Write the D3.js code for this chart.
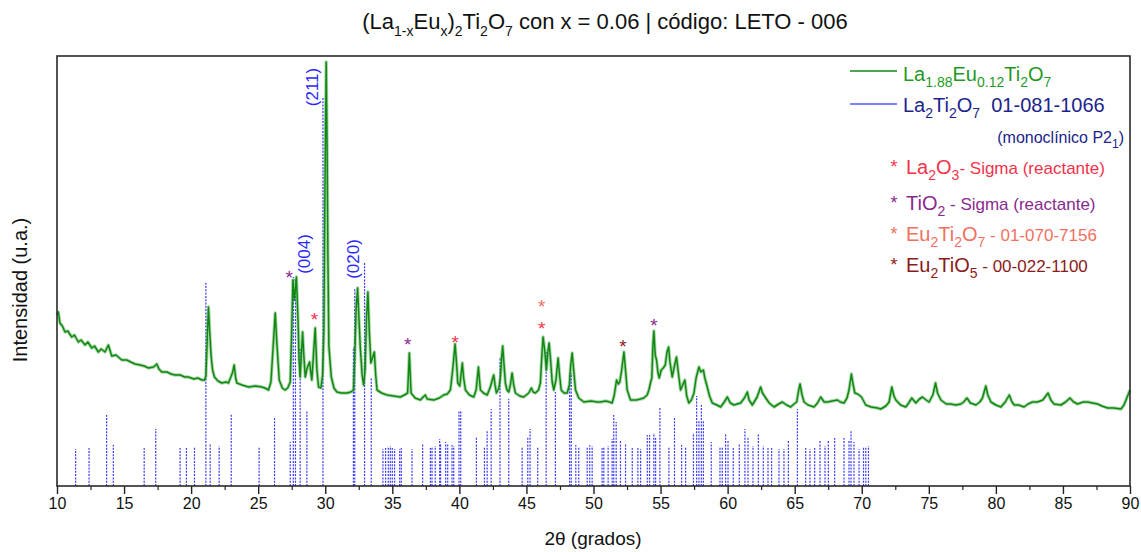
<!DOCTYPE html>
<html lang="es">
<head>
<meta charset="UTF-8">
<title>LETO - 006</title>
<script src="https://cdn.jsdelivr.net/npm/d3@7"></script>
<style>
  body { margin: 0; background: #fff; }
  svg { font-family: "Liberation Sans", Arial, sans-serif; }
  text { white-space: pre; }
</style>
</head>
<body>
<svg id="chart" width="1141" height="552"></svg>
<script>
// measured pattern (2theta, intensity in arbitrary units)
const twoTheta = [10.0,10.1,10.22,10.4,10.6,10.8,11.1,11.3,11.59,11.8,12.09,12.3,12.59,12.8,13.08,13.3,13.58,13.83,14.08,14.4,14.83,15.2,15.5,15.82,16.2,16.5,16.82,17.2,17.44,17.6,17.81,18.2,18.5,18.81,19.2,19.5,19.8,20.2,20.5,20.8,21.0,21.1,21.2,21.29,21.38,21.49,21.6,21.74,22.0,22.29,22.6,22.78,22.96,23.1,23.21,23.32,23.41,23.8,24.28,24.8,25.27,25.5,25.77,25.95,26.1,26.27,26.4,26.57,26.8,27.01,27.2,27.39,27.5,27.59,27.7,27.85,27.97,28.05,28.13,28.22,28.31,28.4,28.51,28.65,28.83,28.92,29.0,29.12,29.25,29.38,29.5,29.68,29.8,29.9,29.97,30.07,30.14,30.2,30.27,30.45,30.65,30.87,31.2,31.62,31.9,32.11,32.2,32.3,32.41,32.5,32.61,32.75,32.86,32.97,33.07,33.18,33.28,33.4,33.52,33.66,33.76,33.86,34.2,34.6,35.1,35.6,35.9,36.14,36.2,36.27,36.34,36.4,36.7,37.09,37.3,37.46,37.6,38.1,38.5,38.83,39.1,39.33,39.5,39.68,39.8,39.88,40.03,40.12,40.22,40.32,40.45,40.75,41.07,41.25,41.42,41.5,41.57,41.8,42.07,42.31,42.45,42.56,42.66,42.76,42.95,43.06,43.15,43.23,43.33,43.43,43.55,43.68,43.8,43.93,44.05,44.18,44.5,44.8,45.17,45.37,45.5,45.67,45.9,46.04,46.15,46.24,46.36,46.49,46.6,46.69,46.8,46.92,47.04,47.2,47.36,47.47,47.59,47.8,48.04,48.2,48.3,48.41,48.52,48.66,48.9,49.28,49.8,50.27,50.52,50.9,51.2,51.39,51.55,51.72,51.85,51.96,52.1,52.27,52.4,52.51,52.76,53.2,53.5,53.75,54.0,54.13,54.3,54.35,54.43,54.5,54.6,54.7,54.8,54.9,55.05,55.2,55.35,55.48,55.6,55.7,55.87,56.05,56.19,56.3,56.49,56.65,56.81,56.95,57.11,57.3,57.49,57.65,57.86,58.0,58.19,58.3,58.48,58.65,58.86,59.2,59.48,59.75,59.98,60.2,60.47,60.7,60.97,61.25,61.47,61.6,61.84,62.2,62.46,62.6,62.84,63.1,63.46,63.8,64.08,64.4,64.7,64.95,65.15,65.3,65.4,65.55,65.7,66.0,66.44,66.7,66.94,67.2,67.44,67.8,68.19,68.4,68.68,68.9,69.05,69.23,69.35,69.48,69.7,69.98,70.3,70.7,71.17,71.42,71.8,72.04,72.24,72.4,72.54,72.9,73.28,73.5,73.73,74.03,74.3,74.53,74.8,75.02,75.3,75.5,75.65,75.9,76.3,76.64,77.0,77.39,77.6,77.84,78.1,78.51,78.8,79.0,79.25,79.4,79.63,80.0,80.37,80.7,81.0,81.2,81.37,81.7,82.1,82.4,82.73,83.1,83.5,83.89,84.1,84.33,84.85,85.2,85.52,85.8,86.09,86.5,86.84,87.2,87.59,87.9,88.33,88.8,89.33,89.55,89.7,89.85,90.0];
const counts = [171,174,163,160,154,155,149,151,144,146,141,144,138,140,134,137,134,141,130,131,126,126,124,122,121,120,118,119,122,117,114,114,112,111,111,109,109,107,108,106,106,110,146,179,156,130,116,109,105,103,104,103,109,114,121,108,103,101,99,100,99,98,96,104,136,173,141,106,98,96,98,104,156,206,186,209,166,126,109,131,154,131,109,118,124,114,106,131,158,116,99,98,111,156,286,424,336,226,140,109,98,94,93,93,94,96,129,176,198,171,139,111,101,116,166,194,156,123,128,134,111,96,93,91,90,89,91,93,111,133,111,93,88,86,89,91,87,86,88,91,92,96,116,142,121,103,100,111,123,108,96,91,89,96,119,106,96,93,91,99,106,111,101,93,98,109,128,140,121,103,96,94,101,113,101,93,90,89,93,98,94,93,96,103,131,149,136,116,134,143,126,104,96,106,128,111,96,93,93,101,121,133,116,96,88,84,85,84,84,85,84,83,91,106,102,104,116,134,114,96,86,86,87,88,91,96,106,108,141,155,131,126,114,108,116,118,121,134,139,124,109,121,129,116,96,101,106,90,83,86,93,108,119,114,116,108,99,90,83,81,79,84,89,83,81,82,83,88,94,86,81,89,99,93,88,83,79,82,84,81,79,82,84,96,102,91,84,81,79,83,89,84,84,85,86,84,83,88,96,112,102,93,92,89,81,79,78,77,80,84,99,90,86,81,79,83,88,83,87,89,86,84,91,103,93,86,82,82,81,82,84,88,83,81,84,88,100,91,84,81,79,84,91,84,81,81,79,82,84,84,86,93,86,82,81,84,88,84,82,84,84,83,82,80,78,78,77,81,86,91,96];

// La2Ti2O7 reference card 01-081-1066 (position, relative height)
const refPos = [11.39,12.39,13.7,14.2,16.5,17.36,19.18,19.65,20.25,21.1,21.42,22.09,22.99,25.07,26.22,27.39,27.62,27.78,28.13,28.63,29.83,32.1,32.2,32.93,33.43,34.3,34.5,34.7,34.85,35.0,35.17,35.55,35.67,36.47,37.26,37.84,37.96,38.2,38.53,38.6,38.98,39.13,39.45,39.58,39.97,40.1,41.27,41.87,42.07,42.37,43.03,43.68,44.68,45.1,45.27,45.84,46.47,47.16,48.22,48.34,48.68,48.9,49.53,49.72,49.9,50.64,50.77,51.09,51.39,51.51,51.69,52.01,52.39,52.89,53.31,53.51,54.01,54.18,54.5,54.63,54.95,55.62,56.04,56.57,56.87,57.45,57.69,57.86,58.04,58.19,58.78,59.43,59.6,59.85,60.03,60.42,60.87,61.29,61.52,61.89,62.29,62.66,63.01,63.28,63.83,64.2,64.53,65.2,65.82,66.14,66.49,66.89,67.26,67.51,67.98,68.68,69.05,69.2,69.42,69.8,70.13,70.3,70.5];
const refInt = [37,38,71,41,38,57,38,38,39,204,42,40,72,39,69,44,209,207,137,76,389,139,198,223,109,37,38,39,40,38,37,37,38,37,42,38,39,40,47,43,44,42,41,40,76,76,49,39,55,77,129,87,39,49,57,39,134,94,113,113,41,39,39,41,40,38,39,40,47,71,64,45,43,38,38,37,51,51,53,48,79,39,69,41,39,53,90,66,81,66,44,39,39,52,45,38,43,57,48,40,52,40,38,38,37,37,46,77,38,37,38,45,40,46,48,48,46,55,44,37,39,39,40];

// secondary phase marks
const markPos = [27.31,29.2,36.14,39.68,46.14,46.14,52.19,54.5];
const markInt = [213,171,146,148,184,162,144,165];
const markPhase = ["TiO2","La2O3","TiO2","La2O3","Eu2Ti2O7","La2O3","Eu2TiO5","TiO2"];

// Miller index labels
const hklText = ["(211)","(004)","(020)"];
const hklPos = [29.43,28.84,32.5];
const hklInt = [399,232,227];

const xTicks = d3.range(10, 91, 5);

const colors = {
  sample: "#118811", ref: "#3838ff", refText: "#1c248c",
  La2O3: "#f2334a", TiO2: "#8a2a8e", Eu2Ti2O7: "#f2705e", Eu2TiO5: "#8c1a1a", hkl: "#2a2aff"
};

const svg = d3.select("#chart");
const x = d3.scaleLinear().domain([10, 90]).range([57, 1130]);
const y = d3.scaleLinear().domain([0, 430]).range([486, 56]);

// write text with subscripts: parts = [[text, isSub, size]]
function rich(t, parts, base) {
  let sub = false;
  parts.forEach(p => {
    const ts = t.append("tspan").text(p[0]).style("font-size", (p[2] || base) + "px");
    if (p[1] && !sub) { ts.attr("dy", base * 0.3); sub = true; }
    else if (!p[1] && sub) { ts.attr("dy", -base * 0.3); sub = false; }
  });
}

// title
const title = svg.append("text").attr("x", 605).attr("y", 29)
  .attr("text-anchor", "middle").style("font-size", "22px").attr("fill", "#111");
rich(title, [["(La"],["1-x",1,14],["Eu"],["x",1,14],[")"],["2",1,14],["Ti"],["2",1,14],["O"],["7",1,14],[" con x = 0.06 | código: LETO - 006"]], 22);

// reference sticks
svg.append("g").selectAll("line").data(refPos).join("line")
  .attr("x1", d => x(d)).attr("x2", d => x(d))
  .attr("y1", y(0)).attr("y2", (d, i) => y(refInt[i]))
  .attr("stroke", colors.ref).attr("stroke-width", 1.2)
  .attr("stroke-dasharray", "2,1.3");

// sample pattern
const pts = twoTheta.map((t, i) => [t, counts[i]]);
const line = d3.line().x(d => x(d[0])).y(d => y(d[1]));
svg.append("path").datum(pts).attr("d", line)
  .attr("fill", "none").attr("stroke", "#2a9a2a").attr("stroke-width", 3.4)
  .attr("stroke-opacity", 0.4).attr("stroke-linejoin", "round");
svg.append("path").datum(pts).attr("d", line)
  .attr("fill", "none").attr("stroke", colors.sample).attr("stroke-width", 1.5)
  .attr("stroke-linejoin", "round");

// phase marks
svg.append("g").selectAll("text").data(markPos).join("text")
  .attr("x", d => x(d)).attr("y", (d, i) => y(markInt[i]) + 11)
  .attr("text-anchor", "middle").style("font-size", "19px")
  .attr("fill", (d, i) => colors[markPhase[i]]).text("*");

// hkl labels
svg.append("g").selectAll("text").data(hklText).join("text")
  .attr("transform", (d, i) => `translate(${x(hklPos[i])},${y(hklInt[i])}) rotate(-90)`)
  .attr("text-anchor", "middle").style("font-size", "17px")
  .attr("fill", colors.hkl).text(d => d);

// axes
const gx = svg.append("g").attr("transform", "translate(0,486)")
  .call(d3.axisBottom(x).tickValues(xTicks).tickSize(8).tickPadding(4).tickFormat(d3.format("d")));
gx.select(".domain").remove();
gx.selectAll("text").style("font-size", "16px").attr("fill", "#111");
gx.selectAll("line").attr("stroke", "#222").attr("stroke-width", 1.4);
const gm = svg.append("g").attr("transform", "translate(0,486)")
  .call(d3.axisBottom(x).tickValues(d3.range(12.5, 90, 5)).tickSize(4).tickFormat(""));
gm.select(".domain").remove();
gm.selectAll("line").attr("stroke", "#222").attr("stroke-width", 1.2);

svg.append("rect").attr("x", 57).attr("y", 56).attr("width", 1073).attr("height", 430)
  .attr("fill", "none").attr("stroke", "#2a2a2a").attr("stroke-width", 1.6);

svg.append("text").attr("x", 593).attr("y", 545).attr("text-anchor", "middle")
  .style("font-size", "19px").attr("fill", "#111").text("2θ (grados)");
svg.append("text").attr("transform", "translate(27,290) rotate(-90)").attr("text-anchor", "middle")
  .style("font-size", "20px").attr("fill", "#111").text("Intensidad (u.a.)");

// legend
const lg = svg.append("g");
lg.append("line").attr("x1", 850).attr("x2", 897).attr("y1", 71).attr("y2", 71)
  .attr("stroke", colors.sample).attr("stroke-width", 1.4);
rich(lg.append("text").attr("x", 903).attr("y", 81).attr("fill", "#1f9a1f").style("font-size", "20px"),
  [["La"],["1.88",1,14],["Eu"],["0.12",1,14],["Ti"],["2",1,14],["O"],["7",1,14]], 20);
lg.append("line").attr("x1", 850).attr("x2", 897).attr("y1", 104).attr("y2", 104)
  .attr("stroke", "#4a5aff").attr("stroke-width", 1.4);
rich(lg.append("text").attr("x", 903).attr("y", 112).attr("fill", colors.refText).style("font-size", "20px"),
  [["La"],["2",1,14],["Ti"],["2",1,14],["O"],["7",1,14],["  01-081-1066"]], 20);
rich(lg.append("text").attr("x", 1124).attr("y", 143).attr("text-anchor", "end").attr("fill", colors.refText).style("font-size", "16px"),
  [["(monoclínico P2"],["1",1,12],[")"]], 16);

const phaseRows = [
  ["La2O3", 174, [["La"],["2",1,14],["O"],["3",1,14],["- Sigma (reactante)",0,17]]],
  ["TiO2", 210, [["TiO"],["2",1,14],[" - Sigma (reactante)",0,17]]],
  ["Eu2Ti2O7", 241, [["Eu"],["2",1,14],["Ti"],["2",1,14],["O"],["7",1,14],[" - 01-070-7156",0,17]]],
  ["Eu2TiO5", 272, [["Eu"],["2",1,14],["TiO"],["5",1,14],[" - 00-022-1100",0,17]]]
];
phaseRows.forEach(r => {
  lg.append("text").attr("x", 894).attr("y", r[1] - 1).attr("text-anchor", "middle")
    .style("font-size", "18px").attr("fill", colors[r[0]]).text("*");
  rich(lg.append("text").attr("x", 906).attr("y", r[1]).attr("fill", colors[r[0]]).style("font-size", "20px"), r[2], 20);
});
</script>
</body>
</html>
